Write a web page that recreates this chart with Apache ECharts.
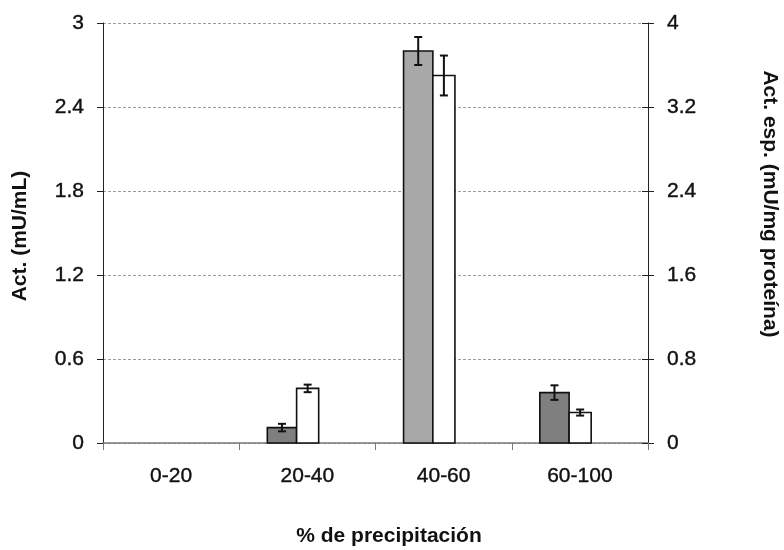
<!DOCTYPE html>
<html>
<head>
<meta charset="utf-8">
<script src="https://cdn.jsdelivr.net/npm/echarts@6/dist/echarts.min.js"></script>
<style>
  html, body { margin: 0; padding: 0; background: #fff; }
  #chart { width: 784px; height: 550px; }
</style>
</head>
<body>
<div id="chart"></div>
<script>
// Precipitation fractions on the category axis
const categories = ['0-20', '20-40', '40-60', '60-100'];

// Activity (mU/mL), left axis, with standard deviation
const actValues = [null, 0.11, 2.8, 0.36];
const actErrors = [null, 0.027, 0.1, 0.052];

// Specific activity (mU/mg proteína), right axis, with standard deviation
const espValues = [null, 0.52, 3.5, 0.29];
const espErrors = [null, 0.036, 0.19, 0.029];

// Axis scales
const actAxis = { min: 0, max: 3, interval: 0.6 };
const espAxis = { min: 0, max: 4, interval: 0.8 };

const FONT = '"Liberation Sans", Arial, sans-serif';

// Build [categoryIndex, value, error] rows, leaving out empty fractions
function rows(values, errors) {
  return values
    .map((v, i) => [i, v, errors[i]])
    .filter(r => r[1] != null);
}

// Bar + error bar drawn through the cartesian coordinate system.
// from/to are the bar edges as fractions of the category band, relative to its centre.
function barWithError(from, to, fillFor) {
  return function (params, api) {
    const i = api.value(0);
    const v = api.value(1);
    const e = api.value(2);
    const band = api.size([1, 0])[0];
    const base = api.coord([i, 0]);
    const top = api.coord([i, v]);
    const hi = api.coord([i, v + e]);
    const lo = api.coord([i, v - e]);
    const x0 = base[0] + from * band;
    const x1 = base[0] + to * band;
    const cx = (x0 + x1) / 2;
    const cap = 4;
    const err = { stroke: '#111', lineWidth: 2 };
    return {
      type: 'group',
      children: [
        {
          type: 'rect',
          shape: { x: x0, y: top[1], width: x1 - x0, height: base[1] - top[1] },
          style: { fill: fillFor(i), stroke: '#111', lineWidth: 1.6 }
        },
        { type: 'line', shape: { x1: cx, y1: hi[1], x2: cx, y2: lo[1] }, style: err },
        { type: 'line', shape: { x1: cx - cap, y1: hi[1], x2: cx + cap, y2: hi[1] }, style: err },
        { type: 'line', shape: { x1: cx - cap, y1: lo[1], x2: cx + cap, y2: lo[1] }, style: err }
      ]
    };
  };
}

const labelStyle = {
  color: '#111', fontSize: 21, fontFamily: FONT,
  textBorderColor: '#111', textBorderWidth: 0.4
};

const option = {
  backgroundColor: '#fff',
  animation: false,
  grid: { left: 103, right: 136, top: 23, bottom: 107, containLabel: false, outerBoundsMode: 'none' },
  xAxis: {
    type: 'category',
    data: categories,
    boundaryGap: true,
    axisLine: { lineStyle: { color: '#7a7a7a', width: 1.5 } },
    axisTick: { show: true, length: 7, lineStyle: { color: '#7a7a7a', width: 1 } },
    axisLabel: Object.assign({ margin: 23 }, labelStyle),
    splitLine: { show: false }
  },
  yAxis: [
    {
      type: 'value',
      position: 'left',
      min: actAxis.min, max: actAxis.max, interval: actAxis.interval,
      axisLine: { show: true, lineStyle: { color: '#222', width: 1 } },
      axisTick: { show: true, length: 6, lineStyle: { color: '#222' } },
      axisLabel: Object.assign({ margin: 19 }, labelStyle),
      splitLine: { show: true, lineStyle: { color: '#9a9a9a', type: [3, 2], width: 1 } }
    },
    {
      type: 'value',
      position: 'right',
      min: espAxis.min, max: espAxis.max, interval: espAxis.interval,
      axisLine: { show: true, lineStyle: { color: '#222', width: 1 } },
      axisTick: { show: true, length: 6, lineStyle: { color: '#222' } },
      axisLabel: Object.assign({ margin: 19 }, labelStyle),
      splitLine: { show: false }
    },
    {
      // inner half of the crossing ticks on the right axis
      type: 'value',
      position: 'right',
      min: espAxis.min, max: espAxis.max, interval: espAxis.interval,
      axisLine: { show: false },
      axisTick: { show: true, inside: true, length: 6, lineStyle: { color: '#222' } },
      axisLabel: { show: false },
      splitLine: { show: false }
    }
  ],
  series: [
    {
      name: 'Act.',
      type: 'custom',
      yAxisIndex: 0,
      encode: { x: 0, y: 1 },
      renderItem: barWithError(-0.294, -0.079, i => (i === 2 ? '#a8a8a8' : '#7f7f7f')),
      data: rows(actValues, actErrors)
    },
    {
      name: 'Act. esp.',
      type: 'custom',
      yAxisIndex: 1,
      encode: { x: 0, y: 1 },
      renderItem: barWithError(-0.079, 0.083, () => '#ffffff'),
      data: rows(espValues, espErrors)
    }
  ],
  graphic: [
    {
      type: 'text', x: 20, y: 236, rotation: Math.PI / 2,
      style: { text: 'Act. (mU/mL)', fontSize: 21, fontWeight: 'bold', fontFamily: FONT,
               fill: '#111', align: 'center', verticalAlign: 'middle' }
    },
    {
      type: 'text', x: 770, y: 204, rotation: -Math.PI / 2,
      style: { text: 'Act. esp. (mU/mg proteína)', fontSize: 21, fontWeight: 'bold', fontFamily: FONT,
               fill: '#111', align: 'center', verticalAlign: 'middle' }
    },
    {
      type: 'text', x: 389, y: 536,
      style: { text: '% de precipitación', fontSize: 21, fontWeight: 'bold', fontFamily: FONT,
               fill: '#111', align: 'center', verticalAlign: 'middle' }
    }
  ]
};

const chart = echarts.init(document.getElementById('chart'), null, { renderer: 'canvas' });
chart.setOption(option);
</script>
</body>
</html>
